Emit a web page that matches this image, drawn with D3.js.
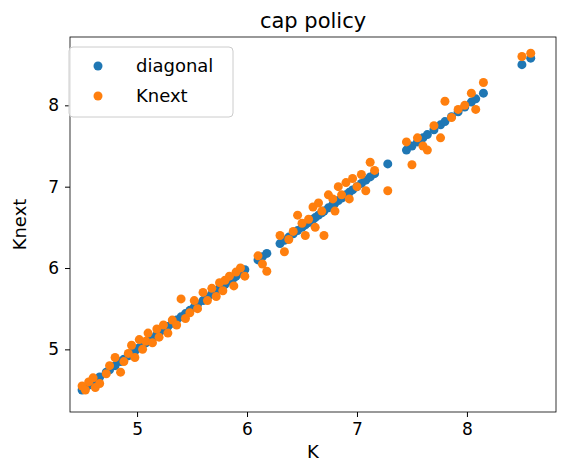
<!DOCTYPE html>
<html><head><meta charset="utf-8">
<script src="https://cdn.jsdelivr.net/npm/d3@7"></script>
<style>body{margin:0;background:#fff}text{font-family:"DejaVu Sans",sans-serif}</style>
</head><body><svg id="chart" width="564" height="472"></svg>
<script>
// capital today and next period's capital under the cap policy
var kValues = [4.5,4.53,4.56,4.6,4.62,4.66,4.72,4.75,4.8,4.85,4.88,4.92,4.95,4.98,5.02,5.05,5.08,5.1,5.14,5.18,5.2,5.24,5.28,5.32,5.36,5.4,5.44,5.48,5.52,5.55,5.6,5.64,5.68,5.72,5.75,5.78,5.8,5.84,5.88,5.9,5.94,5.98,6.1,6.14,6.18,6.3,6.34,6.38,6.42,6.46,6.5,6.53,6.56,6.6,6.62,6.65,6.68,6.7,6.74,6.78,6.8,6.83,6.86,6.9,6.93,6.96,7.0,7.04,7.08,7.12,7.16,7.28,7.45,7.5,7.55,7.6,7.64,7.7,7.76,7.8,7.86,7.92,7.98,8.04,8.08,8.15,8.5,8.58];
var knextValues = [4.55,4.5,4.6,4.65,4.53,4.58,4.7,4.8,4.9,4.72,4.85,4.95,5.05,4.9,5.12,5.0,5.1,5.2,5.08,5.25,5.15,5.3,5.2,5.36,5.3,5.62,5.38,5.45,5.6,5.5,5.7,5.6,5.75,5.65,5.82,5.72,5.85,5.9,5.78,5.95,6.0,5.9,6.15,6.05,5.96,6.4,6.2,6.35,6.45,6.65,6.55,6.4,6.6,6.75,6.5,6.8,6.7,6.4,6.9,6.85,6.7,7.0,6.9,7.05,6.85,7.1,7.0,7.15,6.95,7.3,7.2,6.95,7.55,7.27,7.6,7.5,7.45,7.75,7.6,8.05,7.85,7.95,8.0,8.15,7.95,8.28,8.6,8.64];
var xTicks = [5,6,7,8];
var yTicks = [5,6,7,8];

var svg = d3.select("#chart");
var padLeft = 70, padRight = 556, padTop = 37, padBottom = 412;
var x = d3.scaleLinear().domain([4.39, 8.81]).range([padLeft, padRight]);
var y = d3.scaleLinear().domain([4.23, 8.84]).range([padBottom, padTop]);

function styleAxis(g) {
  g.selectAll("text").attr("font-size", 17).attr("fill", "#000");
  g.select(".domain").remove();
}
svg.append("g").attr("transform", "translate(0," + padBottom + ")")
  .call(d3.axisBottom(x).tickValues(xTicks).tickFormat(d3.format("d")).tickSize(5).tickPadding(6))
  .call(styleAxis);
svg.append("g").attr("transform", "translate(" + padLeft + ",0)")
  .call(d3.axisLeft(y).tickValues(yTicks).tickFormat(d3.format("d")).tickSize(5).tickPadding(6))
  .call(styleAxis);

svg.selectAll(".diag").data(kValues).enter().append("circle")
  .attr("cx", function (d) { return x(d); }).attr("cy", function (d) { return y(d); })
  .attr("r", 4.5).attr("fill", "#1f77b4");
svg.selectAll(".knext").data(kValues).enter().append("circle")
  .attr("cx", function (d) { return x(d); }).attr("cy", function (d, i) { return y(knextValues[i]); })
  .attr("r", 4.5).attr("fill", "#ff7f0e");

svg.append("rect").attr("x", padLeft).attr("y", padTop).attr("width", padRight - padLeft).attr("height", padBottom - padTop)
  .attr("fill", "none").attr("stroke", "#000").attr("stroke-width", 0.8);

svg.append("text").attr("x", (padLeft + padRight) / 2).attr("y", 28).attr("text-anchor", "middle").attr("font-size", 21).text("cap policy");
svg.append("text").attr("x", (padLeft + padRight) / 2).attr("y", 458).attr("text-anchor", "middle").attr("font-size", 18).text("K");
svg.append("text").attr("transform", "translate(26," + (padTop + padBottom) / 2 + ") rotate(-90)").attr("text-anchor", "middle").attr("font-size", 18).text("Knext");

var legend = svg.append("g");
legend.append("rect").attr("x", 69).attr("y", 47).attr("width", 164).attr("height", 70).attr("rx", 4)
  .attr("fill", "#fff").attr("fill-opacity", 0.8).attr("stroke", "#ccc");
[["diagonal", "#1f77b4"], ["Knext", "#ff7f0e"]].forEach(function (d, i) {
  legend.append("circle").attr("cx", 98).attr("cy", 66 + i * 30).attr("r", 4.5).attr("fill", d[1]);
  legend.append("text").attr("x", 136).attr("y", 72 + i * 30).attr("font-size", 18).text(d[0]);
});
</script></body></html>
